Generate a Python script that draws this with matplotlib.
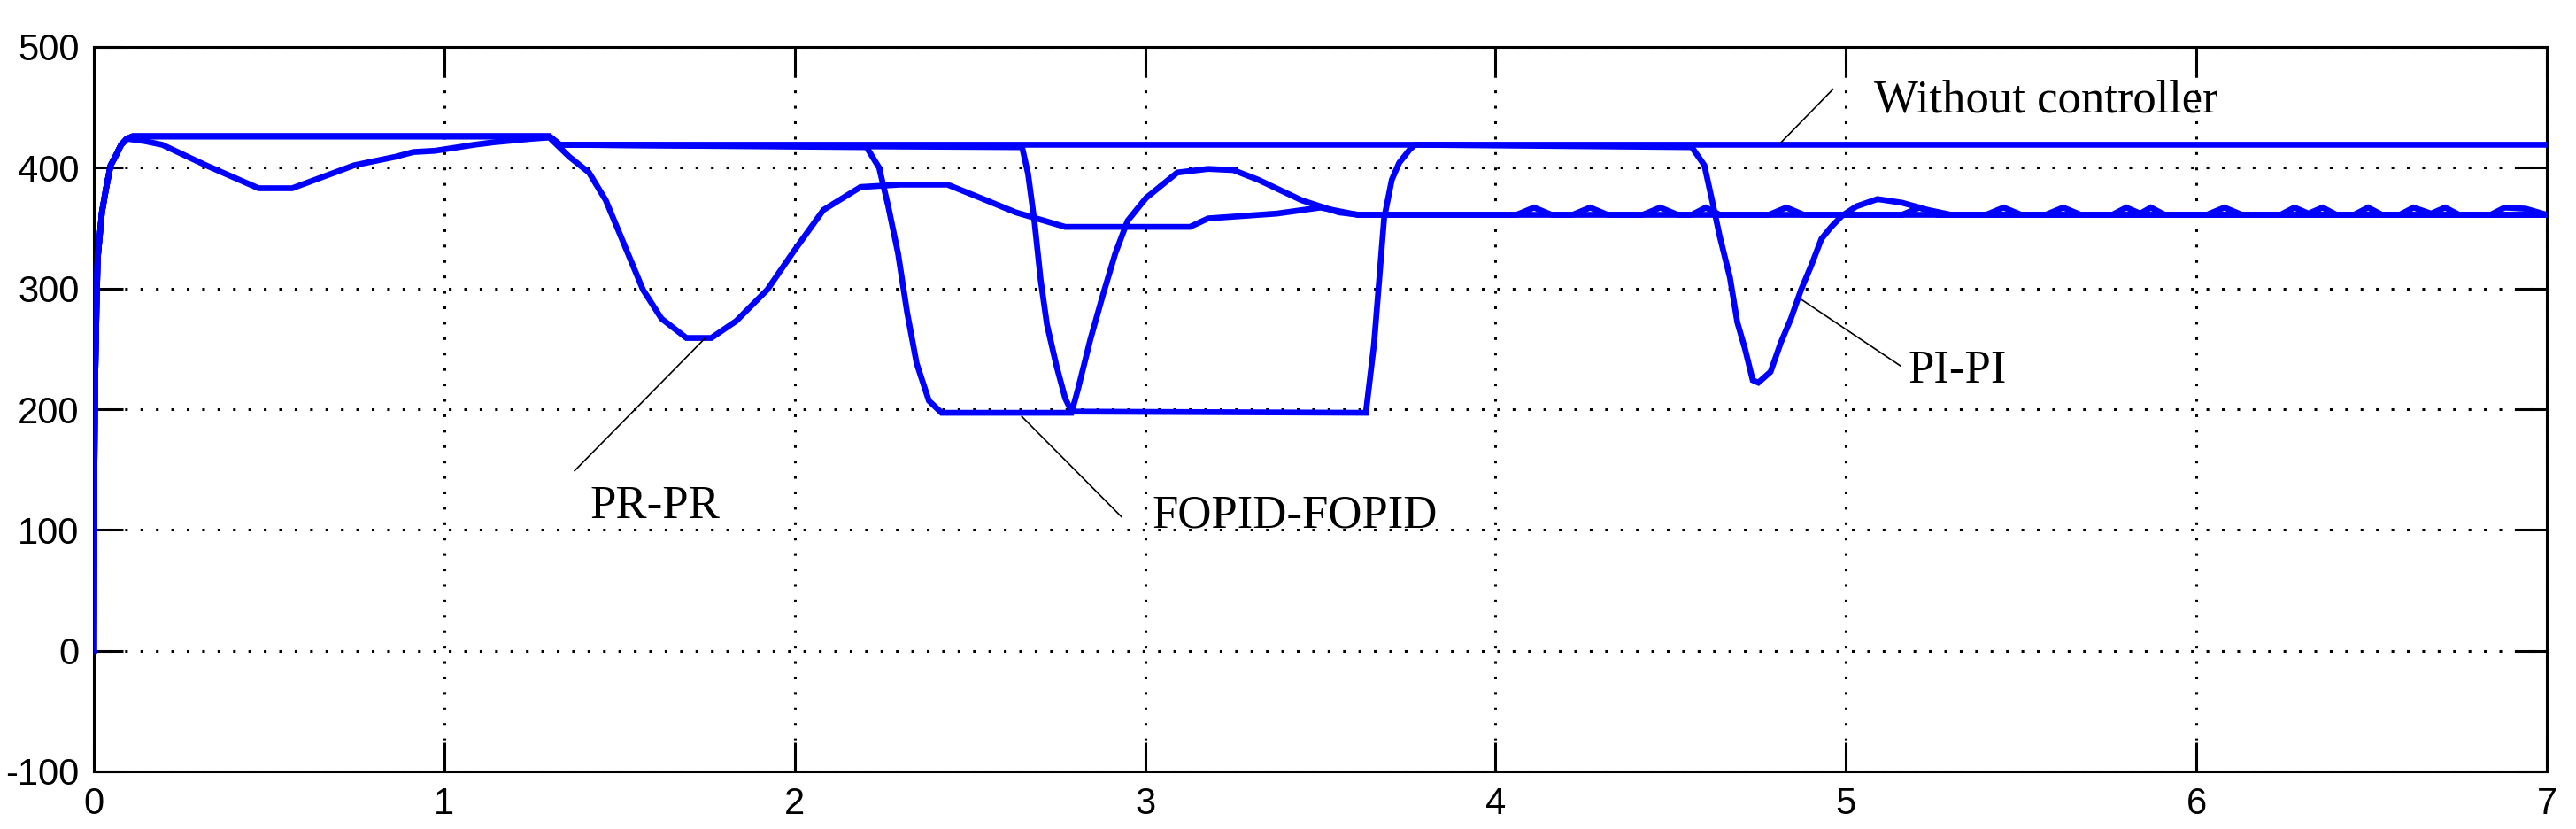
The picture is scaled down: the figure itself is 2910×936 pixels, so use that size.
import matplotlib
matplotlib.use("Agg")
import matplotlib.pyplot as plt

plt.rcParams["axes.unicode_minus"] = False

# shared start-up transient (all four runs)
rise_t = [0, 0.0015, 0.004, 0.008, 0.011, 0.023, 0.035, 0.048, 0.061, 0.078, 0.094, 0.111]
rise_v = [0, 150, 230, 290, 325, 363, 383, 402, 409, 419, 424, 426]

# without controller
wo_t = rise_t + [1.30, 1.33, 7.0]
wo_v = rise_v + [426, 419, 419]

# PR-PR
pr_t = rise_t[:-1] + [0.145, 0.195, 0.32, 0.47, 0.566, 0.743, 0.86, 0.912, 0.973, 1.086,
                      1.14, 1.25, 1.30, 1.357, 1.413, 1.461, 1.514, 1.567, 1.62, 1.691,
                      1.762, 1.833, 1.922, 1.993, 2.082, 2.188, 2.30, 2.436, 2.53, 2.631,
                      2.772, 3.128, 3.18, 3.376, 3.5, 3.606, 7.0]
pr_v = rise_v[:-1] + [422, 419, 402, 383, 383, 402, 409, 413, 414, 419,
                      421, 424, 425, 409, 396, 373, 336, 299, 275, 259,
                      259, 273, 299, 329, 365, 384, 386, 386, 375, 363,
                      351, 351, 358, 362, 367, 361, 361]

# FOPID-FOPID
fo_t = rise_t + [1.30, 1.33, 2.205, 2.241, 2.267, 2.295, 2.321, 2.348, 2.383, 2.419,
                 2.79, 2.808, 2.844, 2.88, 2.915, 2.95, 3.003, 3.092, 3.18, 3.252,
                 3.323, 3.447, 3.553, 3.61]
fo_v = rise_v + [426, 419, 417, 400, 368, 329, 280, 238, 207, 197,
                 197, 216, 258, 295, 329, 356, 375, 396, 399, 398,
                 390, 373, 363, 361]
# steady-state ripple
rip_t = [4.06, 4.11, 4.16, 4.22, 4.27, 4.32, 4.42, 4.47, 4.52, 4.56, 4.60, 4.64,
         4.78, 4.83, 4.88, 5.16, 5.21, 5.26, 5.40, 5.45, 5.50, 5.57, 5.62, 5.67,
         5.76, 5.80, 5.84, 5.87, 5.91, 6.03, 6.08, 6.13, 6.24, 6.28, 6.32, 6.36,
         6.40, 6.45, 6.49, 6.53, 6.58, 6.62, 6.67, 6.71, 6.75, 6.84, 6.88, 6.94, 7.0]
rip_v = [361, 367, 361, 361, 367, 361, 361, 367, 361, 361, 367, 361,
         361, 367, 361, 361, 367, 361, 361, 367, 361, 361, 367, 361,
         361, 367, 362, 367, 361, 361, 367, 361, 361, 367, 362, 367,
         361, 361, 367, 361, 361, 367, 362, 367, 361, 361, 367, 366, 361]
fo_t = fo_t + rip_t
fo_v = fo_v + rip_v

# PI-PI
pi_t = rise_t + [1.30, 1.33, 2.649, 2.666, 2.684, 2.702, 2.72, 2.747, 2.772, 2.79,
                 3.63, 3.653, 3.668, 3.682, 3.704, 3.725, 3.755, 3.77, 4.56, 4.596,
                 4.618, 4.64, 4.669, 4.69, 4.712, 4.734, 4.75, 4.785, 4.814, 4.843,
                 4.872, 4.901, 4.93, 4.958, 4.988, 5.03, 5.09, 5.16, 5.234, 5.30, 7.0]
pi_v = rise_v + [426, 419, 417, 395, 356, 307, 270, 236, 209, 198,
                 197, 253, 307, 358, 390, 404, 415, 419, 417, 402,
                 373, 343, 309, 272, 250, 224, 222, 231, 255, 275,
                 299, 319, 341, 351, 360, 368, 374, 371, 365, 361, 361]

# label text, text anchor (left, baseline), leader line start and end
labels = ["Without controller", "PR-PR", "FOPID-FOPID", "PI-PI"]
label_xy = [(5.08, 446), (1.417, 110), (3.021, 102), (5.176, 222)]
leader_from = [(4.963, 465), (1.372, 149), (2.932, 111), (5.155, 236)]
leader_to = [(4.815, 421), (1.745, 259), (2.648, 194), (4.872, 291)]

fig = plt.figure(figsize=(29.1, 9.36), dpi=100)
ax = fig.add_axes([106 / 2910, 65 / 936, 2771 / 2910, 818 / 936])

for t, v in [(wo_t, wo_v), (pr_t, pr_v), (fo_t, fo_v), (pi_t, pi_v)]:
    ax.plot(t, v, color="#0000ff", linewidth=4.8, solid_joinstyle="miter", zorder=3)

for txt, (tx, ty), p0, p1 in zip(labels, label_xy, leader_from, leader_to):
    ax.plot([p0[0], p1[0]], [p0[1], p1[1]], color="black", linewidth=1.2, zorder=4)
    ax.text(tx, ty, txt, ha="left", va="baseline", fontsize=38,
            family=["Liberation Serif", "DejaVu Serif"], zorder=5)

ax.set_xlim(0, 7)
ax.set_ylim(-100, 500)
ax.set_xticks(range(0, 8))
ax.set_yticks(range(-100, 501, 100))
ax.grid(True, color="black", linestyle=(0, (1, 4.7)), linewidth=2.2)
ax.set_axisbelow(True)
ax.tick_params(direction="in", length=24, width=2.2, top=True, right=True,
               labelsize=30, pad=12)
for lab in ax.get_xticklabels() + ax.get_yticklabels():
    lab.set_family(["Liberation Sans Narrow", "Liberation Sans", "DejaVu Sans"])
for sp in ax.spines.values():
    sp.set_linewidth(2.2)

fig.savefig("out.png", dpi=100)
